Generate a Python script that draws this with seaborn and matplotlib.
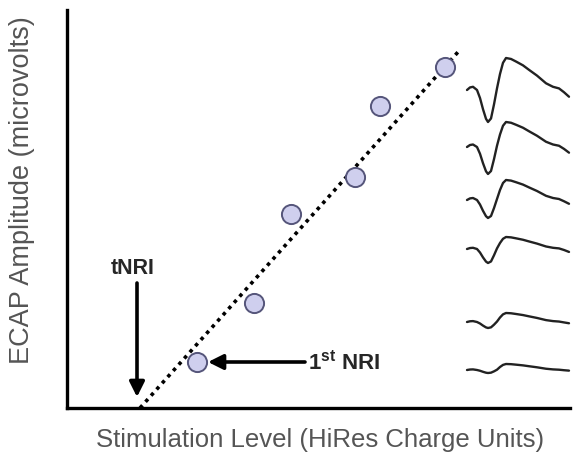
import numpy as np
import matplotlib
matplotlib.use("Agg")
import matplotlib.pyplot as plt
import seaborn as sns

# ECAP growth points (x: stimulation level, y: amplitude), chart units
stim_level = [130, 187, 224, 288, 313, 378]
ecap_amp = [46, 105, 194, 231, 302, 341]

# dotted regression line end points
fit_x = [73, 391]
fit_y = [0, 356]

# waveform template: time offsets and normalized shape
wave_t = [0, 3, 6, 10, 13, 16, 19, 21, 24, 27, 30, 33, 36, 39, 44,
          49, 56, 62, 70, 79, 86, 92, 97, 102]
wave_shape = [0, 0.08, 0.1, 0, -0.25, -0.6, -0.9, -1.0, -0.89, -0.45, 0.05,
              0.5, 0.85, 1.0, 0.97, 0.89, 0.77, 0.63, 0.45, 0.21, 0.1, 0.05,
              -0.07, -0.21]
# per-trace baseline, negative (N1) and positive (P2) amplitudes
wave_base = [318, 261, 208, 159, 86, 38]
wave_neg = [32, 27, 18, 14, 6, 3]
wave_pos = [32, 25, 20, 12, 9, 6]
wave_x0 = 400

tnri_x = 70
first_nri = (130, 46)

sns.set_style("white")
plt.rcParams["font.family"] = ["Liberation Sans", "DejaVu Sans"]
plt.rcParams["mathtext.fontset"] = "custom"
plt.rcParams["mathtext.bf"] = "Liberation Sans:bold"
plt.rcParams["mathtext.rm"] = "Liberation Sans"

fig = plt.figure(figsize=(5.73, 4.58), dpi=100)
ax = fig.add_axes([67 / 573, 50 / 458, 503 / 573, 398 / 458])
ax.set_xlim(0, 503)
ax.set_ylim(0, 398)

sns.despine(ax=ax)
for side in ["left", "bottom"]:
    ax.spines[side].set_linewidth(2.4)
    ax.spines[side].set_color("black")
ax.set_xticks([])
ax.set_yticks([])

# dotted fit line
ax.plot(fit_x, fit_y, linestyle=(0, (1, 1.3)), color="black", lw=2.6,
        zorder=2, clip_on=False)

# data points
sns.scatterplot(x=stim_level, y=ecap_amp, ax=ax, s=190, color="#cfcfee",
                edgecolor="#55557a", linewidth=1.4, zorder=3)

# waveforms
for base, neg, pos in zip(wave_base, wave_neg, wave_pos):
    v = np.array(wave_shape)
    y = np.where(v < 0, v * neg, v * pos) + base
    ax.plot(wave_x0 + np.array(wave_t), y, color="#222222", lw=1.7,
            clip_on=False, solid_joinstyle="round")

# tNRI arrow
ax.annotate("", xy=(tnri_x, 11), xytext=(tnri_x, 125),
            arrowprops=dict(arrowstyle="-|>,head_width=0.45,head_length=0.9",
                            color="black", lw=2.6, shrinkA=0, shrinkB=0))
ax.text(tnri_x - 4, 140, "tNRI", ha="center", va="center",
        fontsize=15.5, fontweight="bold")

# 1st NRI arrow
ax.annotate("", xy=(first_nri[0] + 11, first_nri[1]),
            xytext=(first_nri[0] + 108, first_nri[1]),
            arrowprops=dict(arrowstyle="-|>,head_width=0.45,head_length=0.9",
                            color="black", lw=2.6, shrinkA=0, shrinkB=0))
ax.text(first_nri[0] + 111, first_nri[1] - 1, r"$\mathbf{1^{st}}$ NRI",
        ha="left", va="center", fontsize=16, fontweight="bold")

fig.text(320 / 573, 1 - 440 / 458, "Stimulation Level (HiRes Charge Units)",
         ha="center", va="center", fontsize=18.5, color="#555555")
fig.text(22 / 573, 1 - 190 / 458, "ECAP Amplitude (microvolts)",
         ha="center", va="center", rotation=90, fontsize=19.5, color="#555555")

fig.savefig("out.png", dpi=100)
